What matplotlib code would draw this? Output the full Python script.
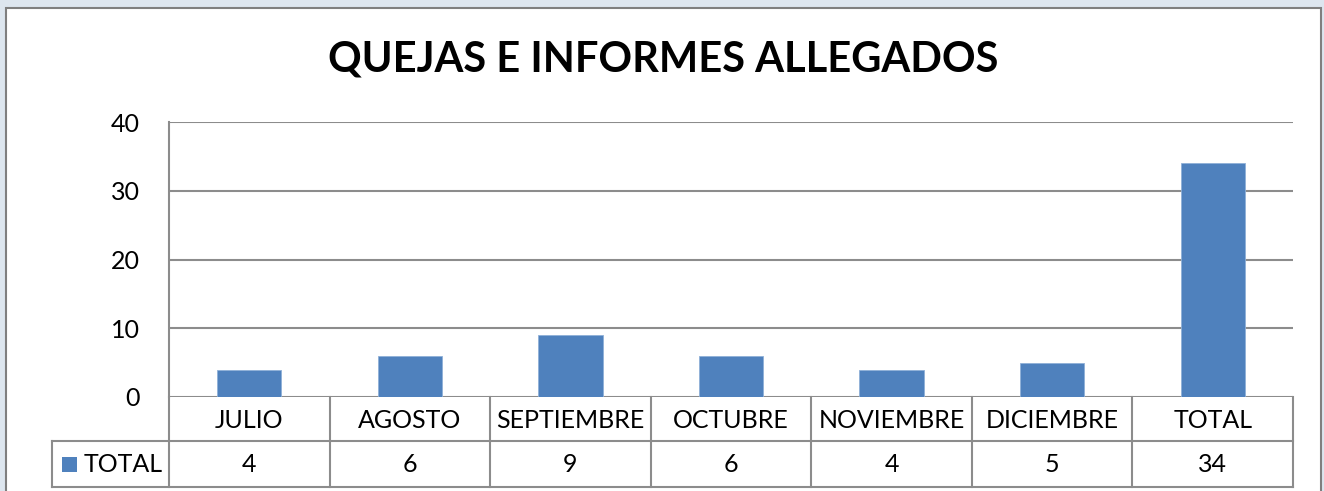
import matplotlib.pyplot as plt
from matplotlib.patches import Rectangle
from matplotlib.lines import Line2D

categories = ["JULIO", "AGOSTO", "SEPTIEMBRE", "OCTUBRE", "NOVIEMBRE", "DICIEMBRE", "TOTAL"]
values = [4, 6, 9, 6, 4, 5, 34]
series_name = "TOTAL"
yticks = [0, 10, 20, 30, 40]

W, H = 1324, 491
bar_color = "#4F81BD"
grid_color = "#8c8c8c"
fs = 18

plt.rcParams['font.family'] = ['Lato', 'DejaVu Sans']

fig = plt.figure(figsize=(W / 100, H / 100), dpi=100)
fig.patch.set_facecolor("#dde6ef")

def px(x, y):
    # pixel coords (top-left origin) -> figure fraction
    return x / W, 1 - y / H

# chart frame
x0, y0 = px(6, 8)
fig.add_artist(Rectangle((x0, -0.1), (1321 - 6) / W, y0 + 0.1, transform=fig.transFigure,
                         facecolor="white", edgecolor="#7f7f7f", linewidth=1.5, zorder=-10))

# plot area
L, T, R, B = 169, 122, 1293, 397
ax = fig.add_axes([L / W, 1 - B / H, (R - L) / W, (B - T) / H])
ax.set_facecolor("none")
n = len(categories)
ax.bar(range(n), values, width=0.4, color=bar_color, edgecolor="#8fb0d8", linewidth=0.6, zorder=3)
ax.set_xlim(-0.5, n - 0.5)
ax.set_ylim(0, 40)
ax.set_yticks(yticks)
ax.set_yticklabels([str(t) for t in yticks], fontsize=fs)
ax.tick_params(axis='y', length=0, pad=21)
ax.set_xticks([])
for t in yticks:
    ax.axhline(t, color=grid_color, linewidth=1.5, zorder=1)
for s in ["top", "right", "bottom"]:
    ax.spines[s].set_visible(False)
ax.spines["left"].set_color(grid_color)
ax.spines["left"].set_linewidth(1.5)

# data table
row1, row2, row3 = 397, 441, 487
def hline(xa, xb, y):
    (a, yy), (b, _) = px(xa, y), px(xb, y)
    fig.add_artist(Line2D([a, b], [yy, yy], color=grid_color, linewidth=1.5, transform=fig.transFigure))
def vline(x, ya, yb):
    (xx, a), (_, b) = px(x, ya), px(x, yb)
    fig.add_artist(Line2D([xx, xx], [a, b], color=grid_color, linewidth=1.5, transform=fig.transFigure))

hline(52, R, row2)
hline(52, R, row3)
vline(52, row2, row3)
slot = (R - L) / n
for k in range(n + 1):
    vline(L + k * slot, row1, row3)
for k, (c, v) in enumerate(zip(categories, values)):
    cx = L + (k + 0.5) * slot
    fx, fy = px(cx, (row1 + row2) / 2 + 1)
    fig.text(fx, fy, c, ha="center", va="center", fontsize=fs)
    fx, fy = px(cx, (row2 + row3) / 2 + 1)
    fig.text(fx, fy, str(v), ha="center", va="center", fontsize=fs)

# legend key
kx, ky = px(62, 472)
fig.add_artist(Rectangle((kx, ky), 15 / W, 15 / H, transform=fig.transFigure, facecolor=bar_color))
fx, fy = px(84, (row2 + row3) / 2 + 1)
fig.text(fx, fy, series_name, ha="left", va="center", fontsize=fs)

# title
fx, fy = px(663, 60)
fig.text(fx, fy, "QUEJAS E INFORMES ALLEGADOS", ha="center", va="center", fontsize=30, fontweight="bold")

fig.savefig("out.png", dpi=100, facecolor=fig.get_facecolor())
